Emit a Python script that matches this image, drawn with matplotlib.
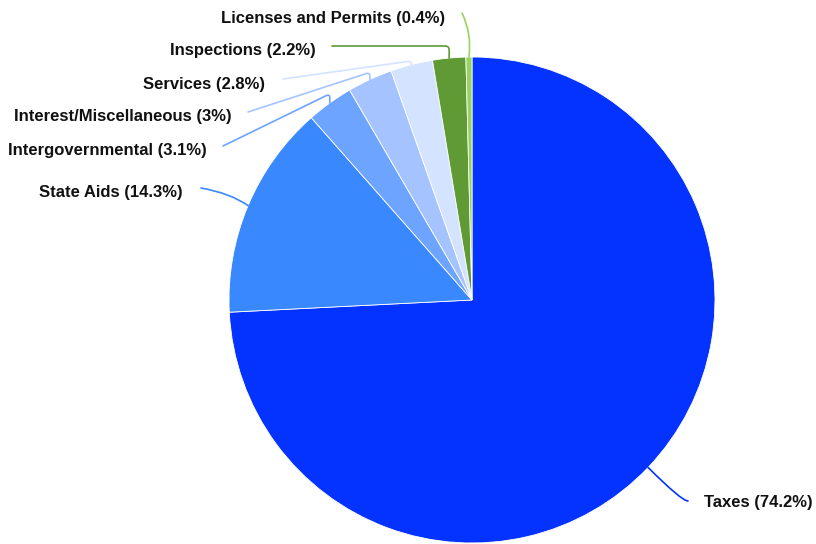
import numpy as np
import matplotlib
matplotlib.use("Agg")
import matplotlib.pyplot as plt

plt.rcParams['font.family'] = ['Liberation Sans', 'DejaVu Sans']

# %%
labels = ["Taxes", "State Aids", "Intergovernmental", "Interest/Miscellaneous",
          "Services", "Inspections", "Licenses and Permits"]
shares = [74.2, 14.3, 3.1, 3.0, 2.8, 2.2, 0.4]
colors = ["#0433FF", "#3A88FE", "#6DA4FF", "#A5C4FF", "#D4E3FF", "#5F9A34", "#96D35F"]

# label layout (pixel coords, y measured from top)
label_pos = [(704, 503, 'left'), (183, 193, 'right'), (207, 151, 'right'),
             (232, 117, 'right'), (265, 84, 'right'), (316, 50, 'right'),
             (445, 19, 'right')]
line_start = [(688, 501), (201, 188), (223, 146), (248, 112), (283, 79),
              (332, 46), (462, 13)]
conn_styles = ["angle3,angleA=180,angleB=135", "angle3,angleA=-10,angleB=-35",
               "angle,angleA=26,angleB=90,rad=4", "angle,angleA=18,angleB=90,rad=4",
               "angle,angleA=8,angleB=90,rad=4", "angle,angleA=0,angleB=90,rad=4",
               "arc3,rad=-0.15"]

W, H = 816, 544
cx, cy, R = 472, H - 300, 243

fig = plt.figure(figsize=(W / 100, H / 100), dpi=100)
ax = fig.add_axes([0, 0, 1, 1])

wedges, _ = ax.pie(shares, colors=colors, startangle=90, counterclock=False,
                   center=(cx, cy), radius=R,
                   wedgeprops=dict(edgecolor='white', linewidth=0.6))
# pie() resets the limits, so set them afterwards
ax.set_xlim(0, W)
ax.set_ylim(0, H)
ax.set_aspect('equal')
ax.axis('off')

for i, w in enumerate(wedges):
    mid = np.deg2rad((w.theta1 + w.theta2) / 2)
    px, py = cx + R * np.cos(mid), cy + R * np.sin(mid)
    tx, ty, ha = label_pos[i]
    ax.text(tx, H - ty, f"{labels[i]} ({shares[i]:g}%)", ha=ha, va='center',
            fontsize=12, fontweight='bold', color='#111111')
    sx, sy = line_start[i]
    ax.annotate("", xy=(px, py), xytext=(sx, H - sy),
                arrowprops=dict(arrowstyle='-', color=colors[i], lw=1.2,
                                shrinkA=0, shrinkB=0,
                                connectionstyle=conn_styles[i]))

fig.savefig("out.png", dpi=100)
